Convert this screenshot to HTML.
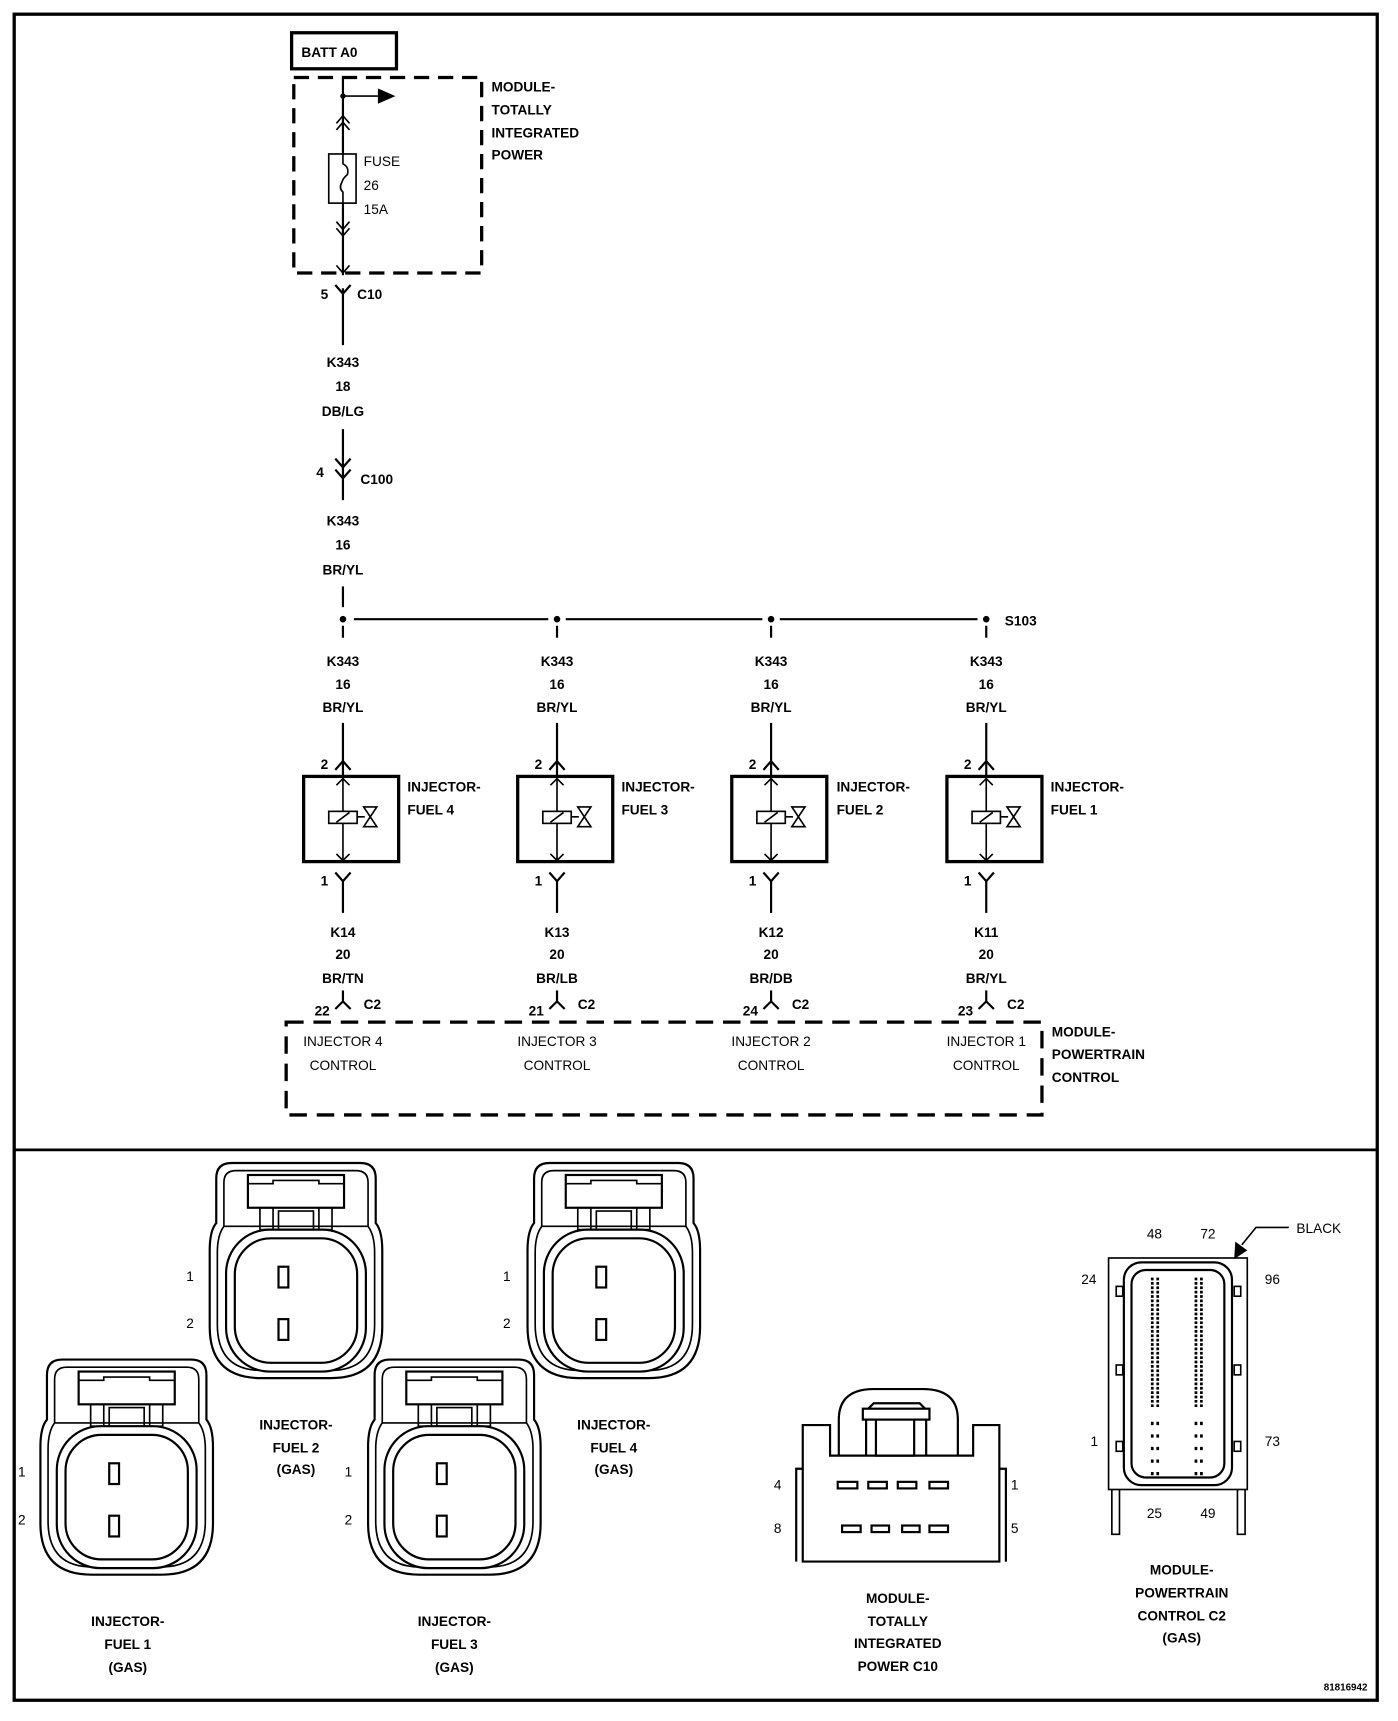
<!DOCTYPE html>
<html><head><meta charset="utf-8"><style>
html,body{margin:0;padding:0;background:#fff;}
svg{display:block;}
text{font-family:"Liberation Sans",Arial,sans-serif;font-weight:bold;font-size:12.5px;fill:#000;}
.n{font-weight:normal;}
</style></head><body>
<svg width="1398" height="1721" viewBox="0 0 1280 1576" preserveAspectRatio="none" xmlns="http://www.w3.org/2000/svg">
<defs>
<g id="inj">
  <path d="M20,0 H138 Q152,0 152,14 V55 Q158,62 158,80 V150 Q158,197 111,197 H47 Q0,197 0,150 V80 Q0,62 6,55 V14 Q6,0 20,0 Z" fill="none" stroke="#000" stroke-width="2"/>
  <path d="M24,7 H134 Q145,7 145,18 V58 Q151,66 151,82 V148 Q151,190 110,190 H48 Q7,190 7,148 V82 Q7,66 13,58 V18 Q13,7 24,7 Z" fill="none" stroke="#000" stroke-width="1.5"/>
  <rect x="35" y="11" width="88" height="30" fill="#fff" stroke="#000" stroke-width="2"/>
  <path d="M35,19 H58 V16 H100 V19 H123" fill="none" stroke="#000" stroke-width="1.5"/>
  <rect x="46" y="41" width="12" height="20" fill="none" stroke="#000" stroke-width="1.5"/>
  <rect x="100" y="41" width="12" height="20" fill="none" stroke="#000" stroke-width="1.5"/>
  <rect x="63" y="44" width="32" height="17" fill="none" stroke="#000" stroke-width="1.5"/>
  <line x1="13" y1="58" x2="145" y2="58" stroke="#000" stroke-width="1.5"/>
  <rect x="15" y="61" width="128" height="130" rx="40" fill="#fff" stroke="#000" stroke-width="2"/>
  <rect x="23" y="69" width="112" height="114" rx="33" fill="none" stroke="#000" stroke-width="2"/>
  <rect x="63" y="95" width="9" height="19" fill="none" stroke="#000" stroke-width="2"/>
  <rect x="63" y="143" width="9" height="19" fill="none" stroke="#000" stroke-width="2"/>
</g>
<g id="col">
  <circle cx="0" cy="567" r="3"/>
  <line x1="0" y1="573" x2="0" y2="584" stroke="#000" stroke-width="2"/>
  <text x="0" y="610" text-anchor="middle">K343</text>
  <text x="0" y="631" text-anchor="middle">16</text>
  <text x="0" y="652" text-anchor="middle">BR/YL</text>
  <line x1="0" y1="662" x2="0" y2="711" stroke="#000" stroke-width="2"/>
  <path d="M-7,705 L0,697 L7,705" fill="none" stroke="#000" stroke-width="2"/>
  <text x="-17" y="704" text-anchor="middle">2</text>
  <rect x="-36" y="711" width="87" height="78" fill="none" stroke="#000" stroke-width="3"/>
  <line x1="0" y1="712" x2="0" y2="789" stroke="#000" stroke-width="1.5"/>
  <path d="M-6,719 L0,713 L6,719 M-6,782 L0,788 L6,782" fill="none" stroke="#000" stroke-width="1.5"/>
  <rect x="-13" y="743" width="26" height="11" fill="#fff" stroke="#000" stroke-width="1.5"/>
  <line x1="-6" y1="753" x2="6" y2="744" stroke="#000" stroke-width="1.5"/>
  <line x1="13" y1="748" x2="20" y2="748" stroke="#000" stroke-width="1.5"/>
  <path d="M19,739 H31 L19,757 H31 Z" fill="#fff" stroke="#000" stroke-width="1.5"/>
  <path d="M-7,799 L0,807 L7,799" fill="none" stroke="#000" stroke-width="2"/>
  <line x1="0" y1="807" x2="0" y2="836" stroke="#000" stroke-width="2"/>
  <text x="-17" y="811" text-anchor="middle">1</text>
  <line x1="0" y1="907" x2="0" y2="917" stroke="#000" stroke-width="2"/>
  <path d="M-7,924 L0,917 L7,924" fill="none" stroke="#000" stroke-width="2"/>
  <text x="19" y="924">C2</text>
  <text x="0" y="980" text-anchor="middle" class="n">CONTROL</text>
</g>
</defs>

<rect x="13" y="13" width="1248" height="1544" fill="none" stroke="#000" stroke-width="3"/>
<line x1="13" y1="1053" x2="1261" y2="1053" stroke="#000" stroke-width="2.5"/>

<!-- top -->
<rect x="267" y="30" width="96" height="33" fill="none" stroke="#000" stroke-width="3"/>
<text x="276" y="52">BATT A0</text>
<rect x="269" y="71" width="172" height="179" fill="none" stroke="#000" stroke-width="3" stroke-dasharray="14 8"/>
<text x="450" y="84">MODULE-</text>
<text x="450" y="105">TOTALLY</text>
<text x="450" y="126">INTEGRATED</text>
<text x="450" y="146">POWER</text>
<line x1="314" y1="72" x2="314" y2="316" stroke="#000" stroke-width="2"/>
<circle cx="314" cy="88" r="2.5"/>
<line x1="314" y1="88" x2="346" y2="88" stroke="#000" stroke-width="1.5"/>
<path d="M346,81 L362,88 L346,95 Z"/>
<path d="M308,113 L314,106 L320,113 M308,119 L314,112 L320,119" fill="none" stroke="#000" stroke-width="1.5"/>
<rect x="301" y="141" width="25" height="45" fill="#fff" stroke="#000" stroke-width="1.5"/>
<path d="M314,141 V150 Q320,153 318,160 Q314,163 313,167 Q310,172 314,176 V186" fill="none" stroke="#000" stroke-width="1.5"/>
<text x="333" y="152" class="n">FUSE</text>
<text x="333" y="174" class="n">26</text>
<text x="333" y="196" class="n">15A</text>
<path d="M308,203 L314,210 L320,203 M308,209 L314,216 L320,209" fill="none" stroke="#000" stroke-width="1.5"/>
<path d="M308,243 L314,250 L320,243" fill="none" stroke="#000" stroke-width="1.5"/>
<rect x="312" y="252" width="4" height="12" fill="#fff"/>
<path d="M307,261 L314,269 L321,261" fill="none" stroke="#000" stroke-width="2"/>
<text x="297" y="274" text-anchor="middle">5</text>
<text x="327" y="274">C10</text>
<text x="314" y="336" text-anchor="middle">K343</text>
<text x="314" y="358" text-anchor="middle">18</text>
<text x="314" y="381" text-anchor="middle">DB/LG</text>
<line x1="314" y1="393" x2="314" y2="458" stroke="#000" stroke-width="2"/>
<path d="M307,420 L314,428 L321,420" fill="none" stroke="#000" stroke-width="2"/>
<path d="M307,430 L314,438 L321,430" fill="none" stroke="#000" stroke-width="2"/>
<text x="293" y="437" text-anchor="middle">4</text>
<text x="330" y="443">C100</text>
<text x="314" y="481" text-anchor="middle">K343</text>
<text x="314" y="503" text-anchor="middle">16</text>
<text x="314" y="526" text-anchor="middle">BR/YL</text>
<line x1="314" y1="537" x2="314" y2="556" stroke="#000" stroke-width="2"/>
<path d="M324,567 H502 M518,567 H698 M714,567 H895" stroke="#000" stroke-width="2"/>
<text x="920" y="573">S103</text>

<use href="#col" x="314"/>
<use href="#col" x="510"/>
<use href="#col" x="706"/>
<use href="#col" x="903"/>
<text x="373" y="725">INJECTOR-</text><text x="373" y="746">FUEL 4</text>
<text x="569" y="725">INJECTOR-</text><text x="569" y="746">FUEL 3</text>
<text x="766" y="725">INJECTOR-</text><text x="766" y="746">FUEL 2</text>
<text x="962" y="725">INJECTOR-</text><text x="962" y="746">FUEL 1</text>
<text x="314" y="858" text-anchor="middle">K14</text><text x="314" y="878" text-anchor="middle">20</text><text x="314" y="900" text-anchor="middle">BR/TN</text><text x="295" y="930" text-anchor="middle">22</text>
<text x="510" y="858" text-anchor="middle">K13</text><text x="510" y="878" text-anchor="middle">20</text><text x="510" y="900" text-anchor="middle">BR/LB</text><text x="491" y="930" text-anchor="middle">21</text>
<text x="706" y="858" text-anchor="middle">K12</text><text x="706" y="878" text-anchor="middle">20</text><text x="706" y="900" text-anchor="middle">BR/DB</text><text x="687" y="930" text-anchor="middle">24</text>
<text x="903" y="858" text-anchor="middle">K11</text><text x="903" y="878" text-anchor="middle">20</text><text x="903" y="900" text-anchor="middle">BR/YL</text><text x="884" y="930" text-anchor="middle">23</text>
<rect x="262" y="936" width="692" height="85" fill="none" stroke="#000" stroke-width="3" stroke-dasharray="16 9"/>
<text x="963" y="949">MODULE-</text>
<text x="963" y="970">POWERTRAIN</text>
<text x="963" y="991">CONTROL</text>
<text x="314" y="958" text-anchor="middle" class="n">INJECTOR 4</text>
<text x="510" y="958" text-anchor="middle" class="n">INJECTOR 3</text>
<text x="706" y="958" text-anchor="middle" class="n">INJECTOR 2</text>
<text x="903" y="958" text-anchor="middle" class="n">INJECTOR 1</text>

<!-- bottom connectors -->
<use href="#inj" x="192" y="1065"/>
<use href="#inj" x="483" y="1065"/>
<use href="#inj" x="37" y="1245"/>
<use href="#inj" x="337" y="1245"/>
<text x="174" y="1173" text-anchor="middle" class="n">1</text><text x="174" y="1216" text-anchor="middle" class="n">2</text>
<text x="464" y="1173" text-anchor="middle" class="n">1</text><text x="464" y="1216" text-anchor="middle" class="n">2</text>
<text x="20" y="1352" text-anchor="middle" class="n">1</text><text x="20" y="1396" text-anchor="middle" class="n">2</text>
<text x="319" y="1352" text-anchor="middle" class="n">1</text><text x="319" y="1396" text-anchor="middle" class="n">2</text>
<text x="271" y="1309" text-anchor="middle">INJECTOR-</text><text x="271" y="1330" text-anchor="middle">FUEL 2</text><text x="271" y="1350" text-anchor="middle">(GAS)</text>
<text x="562" y="1309" text-anchor="middle">INJECTOR-</text><text x="562" y="1330" text-anchor="middle">FUEL 4</text><text x="562" y="1350" text-anchor="middle">(GAS)</text>
<text x="117" y="1489" text-anchor="middle">INJECTOR-</text><text x="117" y="1510" text-anchor="middle">FUEL 1</text><text x="117" y="1531" text-anchor="middle">(GAS)</text>
<text x="416" y="1489" text-anchor="middle">INJECTOR-</text><text x="416" y="1510" text-anchor="middle">FUEL 3</text><text x="416" y="1531" text-anchor="middle">(GAS)</text>

<!-- TIPM C10 -->
<g fill="none" stroke="#000" stroke-width="2">
<path d="M735,1430 V1305 H760 V1333 H891 V1305 H915 V1430 Z"/>
<path d="M735,1345 H729 V1430 M915,1345 H921 V1430"/>
<path d="M768,1333 V1300 Q768,1272 800,1272 H845 Q877,1272 877,1300 V1333"/>
<rect x="790" y="1290" width="61" height="10"/>
<path d="M795,1290 L800,1285 H842 L847,1290"/>
<path d="M793,1300 V1333 M848,1300 V1333 M802,1300 V1333 H837 V1300"/>
<rect x="767" y="1357" width="18" height="6"/><rect x="795" y="1357" width="17" height="6"/><rect x="822" y="1357" width="17" height="6"/><rect x="851" y="1357" width="17" height="6"/>
<rect x="771" y="1397" width="17" height="6"/><rect x="798" y="1397" width="16" height="6"/><rect x="826" y="1397" width="16" height="6"/><rect x="851" y="1397" width="17" height="6"/>
</g>
<text x="712" y="1364" text-anchor="middle" class="n">4</text><text x="712" y="1404" text-anchor="middle" class="n">8</text>
<text x="929" y="1364" text-anchor="middle" class="n">1</text><text x="929" y="1404" text-anchor="middle" class="n">5</text>
<text x="822" y="1468" text-anchor="middle">MODULE-</text><text x="822" y="1489" text-anchor="middle">TOTALLY</text><text x="822" y="1509" text-anchor="middle">INTEGRATED</text><text x="822" y="1530" text-anchor="middle">POWER C10</text>

<!-- PCM C2 -->
<g fill="none" stroke="#000" stroke-width="1.5">
<rect x="1015" y="1152" width="127" height="212"/>
<rect x="1029" y="1156" width="99" height="204" rx="16" stroke-width="2"/>
<rect x="1036" y="1163" width="85" height="190" rx="13" stroke-width="2"/>
<rect x="1022" y="1178" width="6" height="9"/><rect x="1022" y="1250" width="6" height="9"/><rect x="1022" y="1320" width="6" height="9"/>
<rect x="1130" y="1178" width="6" height="9"/><rect x="1130" y="1250" width="6" height="9"/><rect x="1130" y="1320" width="6" height="9"/>
<path d="M1018,1364 V1405 H1025 V1364 M1133,1364 V1405 H1140 V1364"/>
</g>
<g stroke="#000" stroke-width="2.5" stroke-dasharray="2.5 1.5">
<line x1="1055" y1="1170" x2="1055" y2="1290"/><line x1="1060" y1="1170" x2="1060" y2="1290"/>
<line x1="1095" y1="1170" x2="1095" y2="1290"/><line x1="1100" y1="1170" x2="1100" y2="1290"/>
</g>
<g stroke="#000" stroke-width="2.5" stroke-dasharray="3 8.5">
<line x1="1055" y1="1302" x2="1055" y2="1352"/><line x1="1060" y1="1302" x2="1060" y2="1352"/>
<line x1="1095" y1="1302" x2="1095" y2="1352"/><line x1="1100" y1="1302" x2="1100" y2="1352"/>
</g>
<text x="1057" y="1134" text-anchor="middle" class="n">48</text><text x="1106" y="1134" text-anchor="middle" class="n">72</text>
<text x="997" y="1176" text-anchor="middle" class="n">24</text><text x="1165" y="1176" text-anchor="middle" class="n">96</text>
<text x="1002" y="1324" text-anchor="middle" class="n">1</text><text x="1165" y="1324" text-anchor="middle" class="n">73</text>
<text x="1057" y="1390" text-anchor="middle" class="n">25</text><text x="1106" y="1390" text-anchor="middle" class="n">49</text>
<text x="1187" y="1129" class="n">BLACK</text>
<path d="M1180,1124 H1150 L1137,1140" fill="none" stroke="#000" stroke-width="1.5"/>
<path d="M1130,1153 L1131,1137 L1142,1145 Z"/>
<text x="1082" y="1442" text-anchor="middle">MODULE-</text><text x="1082" y="1463" text-anchor="middle">POWERTRAIN</text><text x="1082" y="1484" text-anchor="middle">CONTROL C2</text><text x="1082" y="1504" text-anchor="middle">(GAS)</text>
<text x="1252" y="1548" text-anchor="end" style="font-size:9px">81816942</text>
</svg>
</body></html>
